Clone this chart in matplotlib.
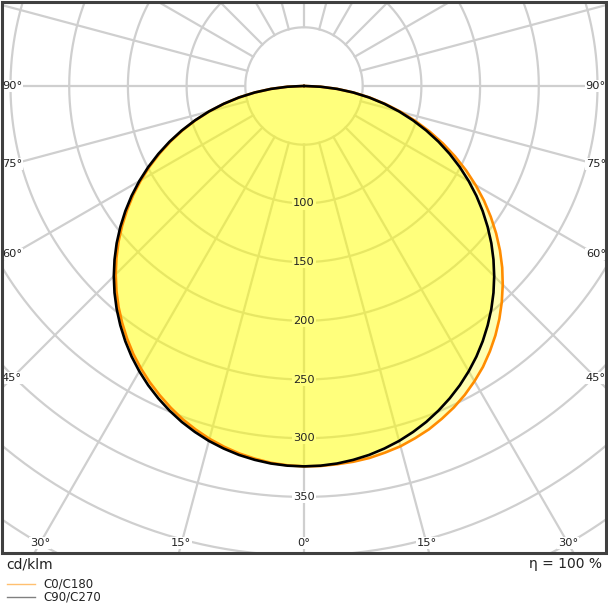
import numpy as np
import matplotlib
matplotlib.use("Agg")
import matplotlib.pyplot as plt
from matplotlib.patches import Rectangle
from matplotlib.lines import Line2D

# ---- data (cd/klm), gamma in 2.5 degree steps ----
gamma_deg = [0, 2.5, 5, 7.5, 10, 12.5, 15, 17.5, 20, 22.5, 25, 27.5, 30, 32.5, 35, 37.5,
             40, 42.5, 45, 47.5, 50, 52.5, 55, 57.5, 60, 62.5, 65, 67.5, 70, 72.5, 75,
             77.5, 80, 82.5, 85, 87.5, 90]
i_c0 = [324.0, 324.0, 323.4, 322.8, 321.7, 319.8, 317.7, 314.6, 311.2, 306.8, 302.1,
        296.6, 290.4, 283.7, 276.0, 267.8, 258.9, 249.4, 239.4, 229.0, 217.9, 206.3,
        194.2, 181.8, 168.8, 155.6, 142.0, 128.2, 114.1, 99.8, 85.6, 71.2, 57.0, 42.6,
        28.3, 14.1, 0.5]
i_c180 = [324.0, 323.4, 322.2, 320.2, 317.8, 314.7, 311.1, 306.8, 302.1, 296.6, 290.7,
          284.5, 277.8, 270.6, 262.7, 254.4, 245.7, 236.5, 226.8, 216.7, 206.2, 195.2,
          183.9, 172.4, 160.4, 148.1, 135.5, 122.9, 109.9, 96.7, 83.4, 69.7, 56.1, 42.2,
          28.1, 14.1, 0.5]
i_c90_c270 = [324.0, 323.7, 322.8, 321.2, 319.1, 316.3, 313.0, 309.0, 304.5, 299.3, 293.6,
              287.4, 280.6, 273.3, 265.4, 257.0, 248.2, 238.9, 229.1, 218.9, 208.3, 197.2,
              185.8, 174.1, 162.0, 149.6, 136.9, 124.0, 110.8, 97.4, 83.9, 70.1, 56.3, 42.3,
              28.2, 14.1, 0.5]

ring_values = [50, 100, 150, 200, 250, 300, 350, 400, 450]
ring_labels = [100, 150, 200, 250, 300, 350]
spoke_angles = list(range(0, 360, 15))
side_labels = ["90°", "75°", "60°", "45°"]
bottom_labels = ["30°", "15°", "0°", "15°", "30°"]
legend_names = ["C0/C180", "C90/C270"]
unit_text = "cd/klm"
eta_text = "η = 100 %"

# ---- layout ----
W = H = 608
fig = plt.figure(figsize=(W / 100, H / 100), dpi=100)
k = 58.7 / 50.0          # px per cd/klm
cx, cy = 304, 86         # centre of diagram (px from top-left)
rmax = 480
R = rmax * k
ax = fig.add_axes([(cx - R) / W, (H - cy - R) / H, 2 * R / W, 2 * R / H],
                  projection="polar")
ax.set_theta_zero_location("S")
ax.set_ylim(0, rmax)
ax.axis("off")

clip = Rectangle((2 / W, 55 / H), 604 / W, 551 / H, transform=fig.transFigure,
                 facecolor="none", edgecolor="none")

grid_col = "#cfcfcf"
th_ring = np.linspace(0, 2 * np.pi, 721)
for r in ring_values:
    ln, = ax.plot(th_ring, np.full_like(th_ring, r), color=grid_col, lw=1.6, zorder=1)
    ln.set_clip_path(clip)
for a in spoke_angles:
    ln, = ax.plot([np.deg2rad(a)] * 2, [50, rmax], color=grid_col, lw=1.6, zorder=1)
    ln.set_clip_path(clip)

g = np.deg2rad(np.array(gamma_deg, dtype=float))
th_all = np.concatenate([-g[::-1], g[1:]])
r_orange = np.concatenate([np.array(i_c180)[::-1], np.array(i_c0)[1:]])
r_black = np.concatenate([np.array(i_c90_c270)[::-1], np.array(i_c90_c270)[1:]])

for rr in (r_orange, r_black):
    f = ax.fill(th_all, rr, color="#ffff00", alpha=0.3, lw=0, zorder=2)
    for p in f:
        p.set_clip_path(clip)

ln, = ax.plot(th_all, r_orange, color="#ff8c00", lw=1.9, zorder=3,
              solid_joinstyle="round")
ln.set_clip_path(clip)
ln, = ax.plot(th_all, r_black, color="black", lw=1.9, zorder=4,
              solid_joinstyle="round")
ln.set_clip_path(clip)

for v in ring_labels:
    bg = "#ffff80" if v < i_c90_c270[0] else "white"
    ax.text(0, v, str(v), ha="center", va="center", fontsize=8.2, color="#222222",
            zorder=5, bbox=dict(boxstyle="square,pad=0.1", fc=bg, ec="none"))


def fx(x):
    return x / W


def fy(y):
    return 1 - y / H


lab_y = [86, 164, 254, 378]
for s, y in zip(side_labels, lab_y):
    fig.text(fx(2), fy(y), s, ha="left", va="center", fontsize=8.2, color="#222222",
             bbox=dict(boxstyle="square,pad=0.1", fc="white", ec="none"), zorder=4)
    fig.text(fx(606), fy(y), s, ha="right", va="center", fontsize=8.2, color="#222222",
             bbox=dict(boxstyle="square,pad=0.1", fc="white", ec="none"), zorder=4)
for s, x in zip(bottom_labels, [40, 181, 304, 427, 568]):
    fig.text(fx(x), fy(543), s, ha="center", va="center", fontsize=8.2, color="#222222",
             bbox=dict(boxstyle="square,pad=0.1", fc="white", ec="none"), zorder=4)

frame = Rectangle((2 / W, 55 / H), 604 / W, 551 / H, transform=fig.transFigure,
                  facecolor="none", edgecolor="#404040", lw=2.2, zorder=6)
fig.add_artist(frame)

fig.text(fx(6), fy(564), unit_text, ha="left", va="center", fontsize=10, color="#222222")
fig.text(fx(602), fy(564), eta_text, ha="right", va="center", fontsize=10, color="#222222")

for name, col, y in zip(legend_names, ["#ffc070", "#808080"], [584, 597]):
    fig.add_artist(Line2D([fx(7), fx(35)], [fy(y), fy(y)], transform=fig.transFigure,
                          color=col, lw=1.0))
    fig.text(fx(43), fy(y), name, ha="left", va="center", fontsize=8.5, color="#222222")

fig.savefig("out.png", dpi=100, facecolor="white")
